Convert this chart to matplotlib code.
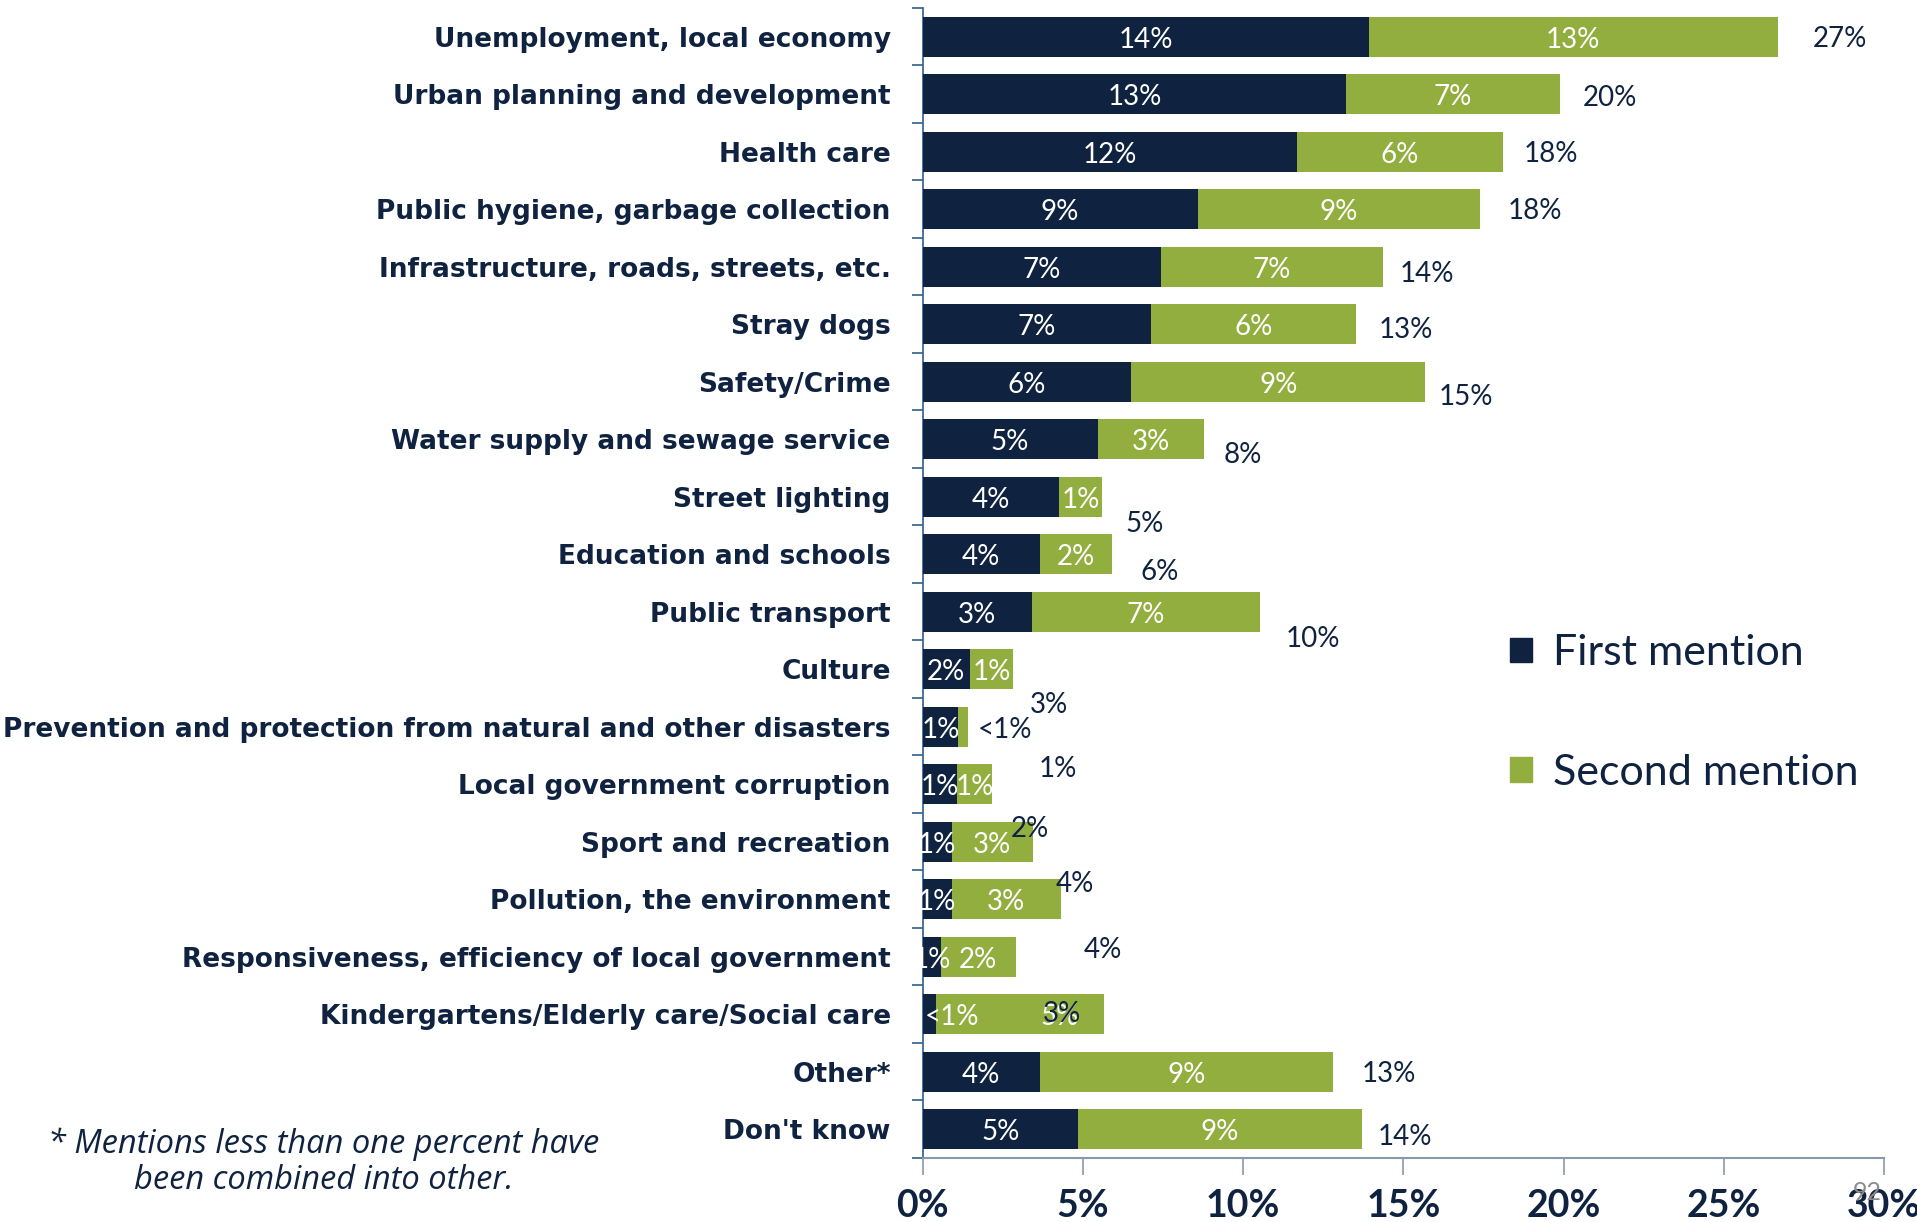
import matplotlib
matplotlib.use("Agg")
import numpy as np
import matplotlib.pyplot as plt
import matplotlib.patches as mpatches
from matplotlib.ticker import FixedLocator

plt.rcParams['font.family'] = ['Lato', 'DejaVu Sans']

NAVY = "#0F2340"
GREEN = "#92AE3F"
AXIS_GREY = "#8A99AA"

# ---------------------------------------------------------------------------
# Data
# ---------------------------------------------------------------------------
CATEGORIES = [
    "Unemployment, local economy",
    "Urban planning and development",
    "Health care",
    "Public hygiene, garbage collection",
    "Infrastructure, roads, streets, etc.",
    "Stray dogs",
    "Safety/Crime",
    "Water supply and sewage service",
    "Street lighting",
    "Education and schools",
    "Public transport",
    "Culture",
    "Prevention and protection from natural and other disasters",
    "Local government corruption",
    "Sport and recreation",
    "Pollution, the environment",
    "Responsiveness, efficiency of local government",
    "Kindergartens/Elderly care/Social care",
    "Other*",
    "Don't know",
]
FIRST = [13.93, 13.22, 11.68, 8.58, 7.43, 7.14, 6.50, 5.46, 4.25, 3.66,
         3.42, 1.48, 1.11, 1.07, 0.91, 0.91, 0.57, 0.43, 3.66, 4.84]
SECOND = [12.75, 6.66, 6.44, 8.82, 6.94, 6.38, 9.19, 3.32, 1.36, 2.25,
          7.10, 1.34, 0.32, 1.09, 2.53, 3.40, 2.33, 5.22, 9.13, 8.87]
FIRST_LABELS = ["14%", "13%", "12%", "9%", "7%", "7%", "6%", "5%", "4%", "4%",
                "3%", "2%", "1%", "1%", "1%", "1%", "1%", "<1%", "4%", "5%"]
SECOND_LABELS = ["13%", "7%", "6%", "9%", "7%", "6%", "9%", "3%", "1%", "2%",
                 "7%", "1%", "<1%", "1%", "3%", "3%", "2%", "5%", "9%", "9%"]
TOTAL_LABELS = ["27%", "20%", "18%", "18%", "14%", "13%", "15%", "8%", "5%", "6%",
                "10%", "3%", "1%", "2%", "4%", "4%", "3%", "", "13%", "14%"]
X_TICKS = [0, 5, 10, 15, 20, 25, 30]

# label placement (layout only): total label shift right (in %) and down (in px)
TOTAL_DX = [1.1, 0.72, 0.62, 0.87, 0.53, 0.7, 0.4, 0.62, 0.73, 0.9,
            0.8, 0.52, 2.2, 0.6, 0.7, 0.7, 0.84, 0.0, 0.9, 0.5]
TOTAL_DY = [0, 2, 0, 0, 5, 4, 13, 14, 25, 16, 25, 34, 40, 43, 40, 49, 55, 0, 0, 6]
ROW_PX = 57.5

# ---------------------------------------------------------------------------
# Figure
# ---------------------------------------------------------------------------
fig = plt.figure(figsize=(19.17, 12.22), dpi=100)
fig.patch.set_facecolor("white")
ax = fig.add_axes([0.4813, 0.0524, 0.5015, 0.9411])

y = np.arange(len(CATEGORIES))
first = np.array(FIRST)
second = np.array(SECOND)
total = first + second

ax.barh(y, first, height=0.7, color=NAVY, zorder=3)
ax.barh(y, second, left=first, height=0.7, color=GREEN, zorder=3)

lab_fs = 20
for i in range(len(CATEGORIES)):
    yl = i + 3 / ROW_PX
    # first mention label
    if i == 17:
        ax.text(0.05, yl, FIRST_LABELS[i], ha="left", va="center",
                color="white", fontsize=lab_fs, zorder=5)
    else:
        ax.text(first[i] / 2, yl, FIRST_LABELS[i], ha="center", va="center",
                color="white", fontsize=lab_fs, zorder=5)
    # second mention label
    if i == 12:
        ax.text(total[i] + 0.3, yl, SECOND_LABELS[i], ha="left", va="center",
                color=NAVY, fontsize=lab_fs, zorder=5)
    elif i == 17:
        ax.text(first[i] + second[i] * 0.735, yl, SECOND_LABELS[i], ha="center",
                va="center", color="white", fontsize=lab_fs, zorder=5)
    else:
        ax.text(first[i] + second[i] / 2, yl, SECOND_LABELS[i], ha="center",
                va="center", color="white", fontsize=lab_fs, zorder=5)
    # total label
    if TOTAL_LABELS[i]:
        ax.text(total[i] + TOTAL_DX[i], i + (TOTAL_DY[i] + 2) / ROW_PX,
                TOTAL_LABELS[i], ha="left", va="center", color=NAVY,
                fontsize=lab_fs, zorder=6)

ax.set_xlim(0, 30)
ax.set_ylim(len(CATEGORIES) - 0.5, -0.5)

ax.set_yticks(y)
ax.set_yticklabels(CATEGORIES, fontsize=19, fontweight="bold", color=NAVY,
                   family="DejaVu Sans")
ax.yaxis.set_minor_locator(FixedLocator(np.arange(-0.5, len(CATEGORIES), 1)))
ax.tick_params(axis="y", which="major", length=0, pad=23)
ax.tick_params(axis="y", which="minor", length=8, width=1.2, color="#2F5F8A")

ax.set_xticks(X_TICKS)
ax.set_xticklabels([f"{t}%" for t in X_TICKS], fontsize=27, fontweight="bold",
                   color=NAVY)
ax.tick_params(axis="x", which="major", length=12, width=1.2, color=AXIS_GREY,
               pad=10)
ax.tick_params(axis="x", which="minor", length=0)

for s in ["top", "right"]:
    ax.spines[s].set_visible(False)
ax.spines["bottom"].set_color(AXIS_GREY)
ax.spines["bottom"].set_linewidth(1.5)
ax.spines["left"].set_color("#2F5F8A")
ax.spines["left"].set_linewidth(1.2)

# legend
handles = [mpatches.Patch(color=NAVY, label="First mention"),
           mpatches.Patch(color=GREEN, label="Second mention")]
fig.legend(handles=handles, loc="upper left", bbox_to_anchor=(0.7877, 0.481),
           frameon=False, fontsize=31, handlelength=0.5, handleheight=0.5,
           labelspacing=1.9, handletextpad=0.5, borderpad=0, borderaxespad=0,
           labelcolor=NAVY)

# footnote and page number
fig.text(324 / 1917, 1 - 1162 / 1222,
         "* Mentions less than one percent have\nbeen combined into other.",
         ha="center", va="center", fontsize=23.5, style="italic", color=NAVY,
         family="Open Sans", linespacing=1.1)
fig.text(1867 / 1917, 1 - 1192 / 1222, "92", ha="center", va="center",
         fontsize=18, color="#8C8C8C", zorder=0)

fig.savefig("out.png", dpi=100, facecolor="white")
